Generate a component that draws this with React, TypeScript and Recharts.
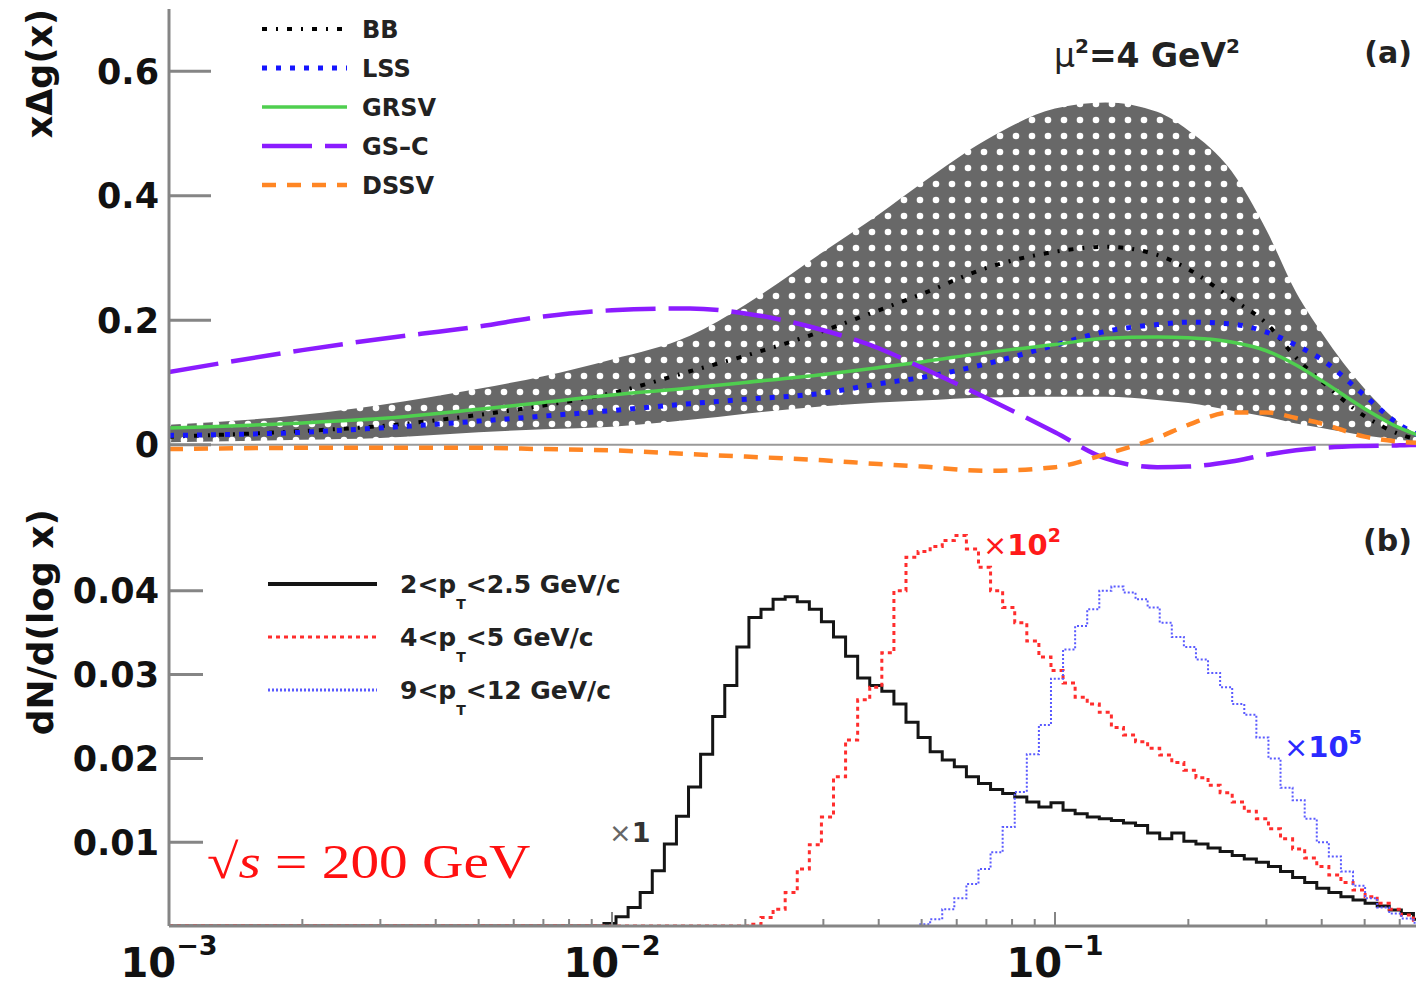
import { ComposedChart, Line, Area, XAxis, YAxis, ReferenceLine, Legend } from 'recharts';

const SANS = '"DejaVu Sans", Verdana, sans-serif';
const SERIF = '"Liberation Serif", "Times New Roman", serif';
const FRAME = '#858585';
const CHART_W = 1508;

// ---- panel (a): x*Delta g(x) at mu^2 = 4 GeV^2 ----
const xGrid = [0.001, 0.002, 0.003, 0.005, 0.007, 0.01, 0.015, 0.02, 0.03, 0.04, 0.05, 0.07, 0.1, 0.13, 0.17, 0.2, 0.25, 0.3, 0.35, 0.4, 0.5, 0.6, 0.7, 0.8, 1.0];
const bandLow = [0.004, 0.008, 0.011, 0.02, 0.025, 0.029, 0.04, 0.05, 0.062, 0.068, 0.071, 0.076, 0.077, 0.077, 0.072, 0.067, 0.055, 0.045, 0.034, 0.027, 0.015, 0.008, 0.003, 0.001, 0];
const bandHigh = [0.032, 0.048, 0.064, 0.09, 0.11, 0.137, 0.175, 0.225, 0.31, 0.37, 0.42, 0.49, 0.54, 0.55, 0.535, 0.505, 0.44, 0.345, 0.245, 0.18, 0.09, 0.035, 0.008, 0.002, 0];
const bbVals = [0.013, 0.022, 0.03, 0.048, 0.063, 0.083, 0.118, 0.143, 0.183, 0.216, 0.242, 0.284, 0.31, 0.318, 0.305, 0.282, 0.235, 0.195, 0.14, 0.102, 0.046, 0.017, 0.005, 0.001, 0];
const lssVals = [0.015, 0.02, 0.027, 0.038, 0.046, 0.055, 0.066, 0.073, 0.083, 0.098, 0.108, 0.13, 0.16, 0.182, 0.193, 0.197, 0.194, 0.181, 0.16, 0.137, 0.079, 0.032, 0.009, 0.002, 0];
const grsvVals = [0.027, 0.035, 0.042, 0.057, 0.068, 0.08, 0.091, 0.1, 0.113, 0.124, 0.133, 0.148, 0.161, 0.171, 0.173, 0.172, 0.165, 0.151, 0.128, 0.103, 0.058, 0.027, 0.01, 0.003, 0];
const gscVals = [0.117, 0.152, 0.17, 0.19, 0.206, 0.216, 0.219, 0.211, 0.184, 0.155, 0.124, 0.075, 0.02, -0.022, -0.036, -0.035, -0.027, -0.016, -0.009, -0.005, -0.002, -0.001, 0, 0, 0];
const dssvVals = [-0.007, -0.005, -0.005, -0.005, -0.007, -0.009, -0.015, -0.019, -0.025, -0.031, -0.035, -0.042, -0.036, -0.015, 0.011, 0.032, 0.052, 0.052, 0.043, 0.034, 0.013, 0.005, 0.002, 0.0005, 0];

const yTicksA = [0, 0.2, 0.4, 0.6];

const curvesA = [
  { key: 'bb', name: 'BB', color: '#000000', width: 4, dash: '5 9 2 9' },
  { key: 'lss', name: 'LSS', color: '#1515ff', width: 5, dash: '5 9' },
  { key: 'grsv', name: 'GRSV', color: '#4fcf4f', width: 3.5, dash: undefined },
  { key: 'gsc', name: 'GS\u2013C', color: '#8b1cff', width: 4.5, dash: '50 13' },
  { key: 'dssv', name: 'DSSV', color: '#ff8624', width: 4.5, dash: '14 11' },
];

const rowsA = xGrid.map((x, i) => ({
  x,
  band: [bandLow[i], bandHigh[i]],
  bb: bbVals[i],
  lss: lssVals[i],
  grsv: grsvVals[i],
  gsc: gscVals[i],
  dssv: dssvVals[i],
}));

// ---- panel (b): dN/d(log x) histograms, log10-x bins ----
const nBins = 110;
const logMin = -3;
const binWidth = 3 / nBins;

const blackStart = 36;
const blackVals = [0.0003, 0.0011, 0.0022, 0.004, 0.0066, 0.0098, 0.0131, 0.0166, 0.0205, 0.025, 0.0287, 0.0333, 0.0368, 0.0378, 0.039, 0.0393, 0.0387, 0.0378, 0.0363, 0.0345, 0.0322, 0.0296,
  0.0287, 0.028, 0.0265, 0.0243, 0.0225, 0.0208, 0.0198, 0.019, 0.0178, 0.017, 0.0163, 0.0158, 0.0154, 0.0148, 0.0142, 0.0147, 0.0138, 0.0134, 0.013, 0.0128, 0.0126, 0.0123, 0.012,
  0.0111, 0.0104, 0.0111, 0.0101, 0.0098, 0.0093, 0.0089, 0.0084, 0.008, 0.0076, 0.0071, 0.0065, 0.0058, 0.0052, 0.0045, 0.004, 0.0035, 0.0031, 0.0027, 0.0024, 0.0019, 0.0015, 0.0008, 0.0004, 0.0002, 0.0001];

const redStart = 48;
const redVals = [0.0002, 0.001, 0.002, 0.004, 0.0068, 0.0097, 0.013, 0.0178, 0.0222, 0.027,
  0.0285, 0.0326, 0.04, 0.044, 0.0447, 0.0453, 0.046, 0.0466, 0.045, 0.0428,
  0.04, 0.038, 0.0362, 0.034, 0.0321, 0.0305, 0.029, 0.0273, 0.0265, 0.0255,
  0.0237, 0.0228, 0.022, 0.0212, 0.0204, 0.0195, 0.0186, 0.0177, 0.0168, 0.0159,
  0.0148, 0.0137, 0.0128, 0.0116, 0.0104, 0.0092, 0.0081, 0.0071, 0.0061, 0.0052,
  0.0043, 0.0035, 0.0027, 0.002, 0.0013, 0.0007, 0.0003, 0.0001];

const blueStart = 62;
const blueVals = [0.0002, 0.0008, 0.002, 0.0033, 0.005, 0.0068, 0.0088, 0.0118, 0.016, 0.0205,
  0.024, 0.0295, 0.033, 0.0358, 0.0378, 0.04, 0.0405, 0.0398, 0.039, 0.038,
  0.0362, 0.0345, 0.0333, 0.0318, 0.0302, 0.0285, 0.0265, 0.0252, 0.0225, 0.02,
  0.0165, 0.015, 0.0128, 0.01, 0.0083, 0.0065, 0.0048, 0.0033, 0.0022, 0.0015,
  0.0009, 0.0004, 0.0001];

const yTicksB = [0.01, 0.02, 0.03, 0.04];

const histsB = [
  { key: 'black', name: ['2<p', 'T', '<2.5 GeV/c'], color: '#151515', width: 3, dash: undefined },
  { key: 'red', name: ['4<p', 'T', '<5 GeV/c'], color: '#ff2d2d', width: 3, dash: '4 4' },
  { key: 'blue', name: ['9<p', 'T', '<12 GeV/c'], color: '#5a5aff', width: 2, dash: '2 2' },
];

const binValue = (start: number, vals: number[], i: number) =>
  i >= start && i < start + vals.length ? vals[i - start] : 0;

const rowsB = Array.from({ length: nBins + 1 }, (_, i) => {
  const b = Math.min(i, nBins - 1);
  return {
    x: Math.pow(10, logMin + i * binWidth),
    black: binValue(blackStart, blackVals, b),
    red: binValue(redStart, redVals, b),
    blue: binValue(blueStart, blueVals, b),
  };
});

// ---- shared log x axis ----
const majorTicks = [0.001, 0.01, 0.1, 1];
// labels only on the decades visible in the frame
const majorExp = ['\u22123', '\u22122', '\u22121', null];
const xTicks = [
  ...[0.001, 0.01, 0.1].flatMap((d) => [1, 2, 3, 4, 5, 6, 7, 8, 9].map((m) => +(m * d).toPrecision(3))),
  1,
];

function XTick(props: any) {
  const { x, y, payload, showLabel } = props;
  const idx = majorTicks.findIndex((m) => Math.abs(m - payload.value) < 1e-9);
  const major = idx >= 0;
  return (
    <g>
      <line x1={x} x2={x} y1={y} y2={y - (major ? 14 : 7)} stroke={FRAME} strokeWidth={2} />
      {showLabel && major && majorExp[idx] && (
        <text x={x} y={y + 51} textAnchor="middle" fontFamily={SANS} fontWeight="bold" fontSize={40} fill="#111">
          10
          <tspan dy={-22} fontSize={27}>{majorExp[idx]}</tspan>
        </text>
      )}
    </g>
  );
}

function YTick(props: any) {
  const { x, y, payload, inner } = props;
  return (
    <g>
      <line x1={x} x2={x + inner} y1={y} y2={y} stroke={FRAME} strokeWidth={3} />
      <text x={x - 10} y={y} dy="0.36em" textAnchor="end" fontFamily={SANS} fontWeight="bold" fontSize={35} fill="#111">
        {String(payload.value)}
      </text>
    </g>
  );
}

function LegendA() {
  return (
    <svg width={240} height={200}>
      {curvesA.map((c, i) => (
        <g key={c.key}>
          <line x1={7} x2={92} y1={19 + i * 39} y2={19 + i * 39} stroke={c.color} strokeWidth={c.width} strokeDasharray={c.dash} />
          <text x={107} y={19 + i * 39} dy="0.36em" fontFamily={SANS} fontWeight="bold" fontSize={24} fill="#222">
            {c.name}
          </text>
        </g>
      ))}
    </svg>
  );
}

function LegendB() {
  return (
    <svg width={400} height={170}>
      {histsB.map((h, i) => (
        <g key={h.key}>
          <line x1={8} x2={117} y1={19 + i * 53} y2={19 + i * 53} stroke={h.color} strokeWidth={h.key === 'black' ? 4 : 3} strokeDasharray={h.dash} />
          <text x={140} y={19 + i * 53} dy="0.36em" fontFamily={SANS} fontWeight="bold" fontSize={25} fill="#222">
            {h.name[0]}
            <tspan dy={16} fontSize={14}>{h.name[1]}</tspan>
            <tspan dy={-16}>{h.name[2]}</tspan>
          </text>
        </g>
      ))}
    </svg>
  );
}

export default function App() {
  return (
    <div style={{ position: 'fixed', left: 0, top: 0, width: 1416, height: 988, overflow: 'hidden', background: '#fff' }}>
      {/* panel (a) */}
      <div style={{ position: 'absolute', left: 0, top: 0 }}>
        <ComposedChart width={CHART_W} height={510} data={rowsA} margin={{ top: 9, right: 10, left: 0, bottom: 3 }}>
          <defs>
            <pattern id="dotPattern" patternUnits="userSpaceOnUse" width={16} height={16}>
              <rect width={16} height={16} fill="#686868" />
              <circle cx={8} cy={8} r={3.3} fill="#ffffff" />
            </pattern>
          </defs>
          <XAxis
            dataKey="x"
            type="number"
            scale="log"
            domain={[0.001, 1]}
            allowDataOverflow
            ticks={xTicks}
            interval={0}
            height={0}
            tickSize={0}
            tickMargin={0}
            tickLine={false}
            axisLine={{ stroke: FRAME, strokeWidth: 3 }}
            tick={(p: any) => <XTick {...p} showLabel={false} />}
          />
          <XAxis xAxisId="top" orientation="top" dataKey="x" type="number" scale="log" domain={[0.001, 1]} allowDataOverflow height={0} tick={false} tickLine={false} axisLine={{ stroke: FRAME, strokeWidth: 3 }} />
          <YAxis
            type="number"
            domain={[-0.1, 0.7]}
            allowDataOverflow
            ticks={yTicksA}
            interval={0}
            width={169}
            tickSize={0}
            tickMargin={0}
            tickLine={false}
            axisLine={{ stroke: FRAME, strokeWidth: 3 }}
            tick={(p: any) => <YTick {...p} inner={42} />}
          />
          <Area dataKey="band" type="monotone" fill="url(#dotPattern)" fillOpacity={1} stroke="none" isAnimationActive={false} />
          <ReferenceLine y={0} stroke="#9a9a9a" strokeWidth={2} />
          {curvesA.map((c) => (
            <Line
              key={c.key}
              dataKey={c.key}
              name={c.name}
              type="monotone"
              stroke={c.color}
              strokeWidth={c.width}
              strokeDasharray={c.dash}
              dot={false}
              activeDot={false}
              isAnimationActive={false}
            />
          ))}
          <Legend layout="vertical" align="center" verticalAlign="middle" wrapperStyle={{ left: 255, top: 10, width: 240 }} content={() => <LegendA />} />
        </ComposedChart>
      </div>

      {/* panel (b) */}
      <div style={{ position: 'absolute', left: 0, top: 470 }}>
        <ComposedChart width={CHART_W} height={518} data={rowsB} margin={{ top: 37, right: 10, left: 0, bottom: 0 }}>
          <XAxis
            dataKey="x"
            type="number"
            scale="log"
            domain={[0.001, 1]}
            allowDataOverflow
            ticks={xTicks}
            interval={0}
            height={62}
            tickSize={0}
            tickMargin={0}
            tickLine={false}
            axisLine={{ stroke: FRAME, strokeWidth: 3 }}
            tick={(p: any) => <XTick {...p} showLabel />}
          />
          <XAxis xAxisId="top" orientation="top" dataKey="x" type="number" scale="log" domain={[0.001, 1]} allowDataOverflow height={0} tick={false} tickLine={false} axisLine={{ stroke: FRAME, strokeWidth: 3 }} />
          <YAxis
            type="number"
            domain={[0, 0.05]}
            allowDataOverflow
            ticks={yTicksB}
            interval={0}
            width={169}
            tickSize={0}
            tickMargin={0}
            tickLine={false}
            axisLine={{ stroke: FRAME, strokeWidth: 3 }}
            tick={(p: any) => <YTick {...p} inner={34} />}
          />
          {histsB.map((h) => (
            <Line
              key={h.key}
              dataKey={h.key}
              name={h.name.join('')}
              type="stepAfter"
              stroke={h.color}
              strokeWidth={h.width}
              strokeDasharray={h.dash}
              dot={false}
              activeDot={false}
              isAnimationActive={false}
            />
          ))}
          <Legend layout="vertical" align="center" verticalAlign="middle" wrapperStyle={{ left: 260, top: 95, width: 400 }} content={() => <LegendB />} />
        </ComposedChart>
      </div>

      {/* titles and annotations */}
      <svg width={1416} height={988} style={{ position: 'absolute', left: 0, top: 0, pointerEvents: 'none' }}>
        <text transform="translate(52,9) rotate(-90)" textAnchor="end" fontFamily={SANS} fontWeight="bold" fontSize={35} fill="#111">
          x{'\u0394'}g(x)
        </text>
        <text transform="translate(53,509) rotate(-90)" textAnchor="end" fontFamily={SANS} fontWeight="bold" fontSize={36} fill="#111">
          dN/d(log x)
        </text>
        <text x={1054} y={67} fontFamily={SANS} fontWeight="bold" fontSize={33} fill="#222">
          <tspan fontWeight="normal">{'\u03bc'}</tspan>
          <tspan dy={-14} fontSize={20}>2</tspan>
          <tspan dy={14}>=4 GeV</tspan>
          <tspan dy={-14} fontSize={20}>2</tspan>
        </text>
        <text x={1412} y={63} textAnchor="end" fontFamily={SANS} fontWeight="bold" fontSize={30} fill="#222">(a)</text>
        <text x={1412} y={551} textAnchor="end" fontFamily={SANS} fontWeight="bold" fontSize={30} fill="#222">(b)</text>
        <text x={609} y={842} fontFamily={SANS} fontSize={27} fill="#333">
          <tspan fill="#666">{'\u00d7'}</tspan>
          <tspan fontWeight="bold">1</tspan>
        </text>
        <text x={983} y={555} fontFamily={SANS} fontSize={29} fill="#ff1a1a">
          {'\u00d7'}
          <tspan fontWeight="bold">10</tspan>
          <tspan dy={-13} fontSize={19} fontWeight="bold">2</tspan>
        </text>
        <text x={1284} y={757} fontFamily={SANS} fontSize={29} fill="#2a2aff">
          {'\u00d7'}
          <tspan fontWeight="bold">10</tspan>
          <tspan dy={-13} fontSize={19} fontWeight="bold">5</tspan>
        </text>
        <text transform="translate(207,878) scale(1.17,1)" fontFamily={SERIF} fontSize={49} fill="#ff1010">
          {'\u221a'}
          <tspan fontStyle="italic">s</tspan> = 200 GeV
        </text>
      </svg>
    </div>
  );
}
